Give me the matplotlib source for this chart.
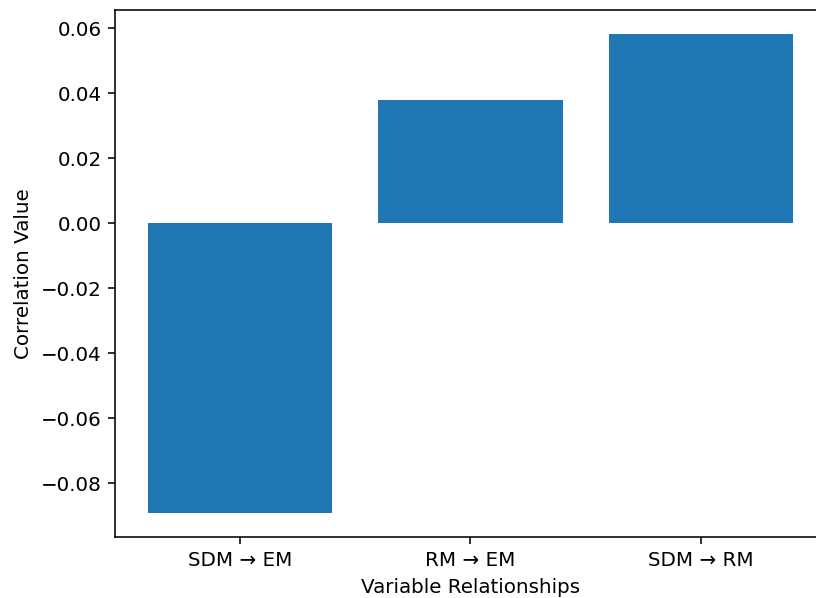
import matplotlib
matplotlib.use('Agg')
import matplotlib.pyplot as plt
plt.rcParams.update({'font.size': 10})

relationships = ['SDM → EM', 'RM → EM', 'SDM → RM']
correlations = [-0.0892, 0.0379, 0.0582]

dpi = 143
fig = plt.figure(figsize=(816 / dpi, 598 / dpi), dpi=dpi)
ax = fig.add_axes([0.1415, 0.102, 0.870, 0.881])
ax.bar(relationships, correlations, color='#1f77b4')
ax.set_xlabel('Variable Relationships')
ax.set_ylabel('Correlation Value')

fig.savefig('out.png', dpi=dpi)
